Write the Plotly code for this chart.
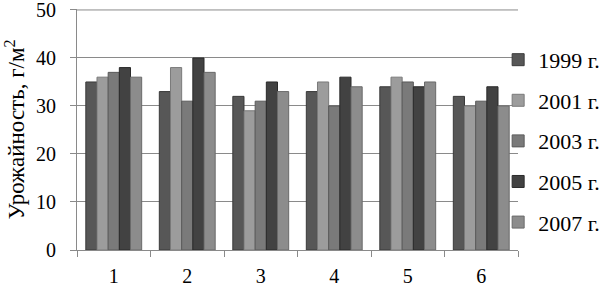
import plotly.graph_objects as go

categories = ["1", "2", "3", "4", "5", "6"]
series_names = ["1999 г.", "2001 г.", "2003 г.", "2005 г.", "2007 г."]
v1999 = [35, 33, 32, 33, 34, 32]
v2001 = [36, 38, 29, 35, 36, 30]
v2003 = [37, 31, 31, 30, 35, 31]
v2005 = [38, 40, 35, 36, 34, 34]
v2007 = [36, 37, 33, 34, 35, 30]
y_ticks = [0, 10, 20, 30, 40, 50]

series_values = [v1999, v2001, v2003, v2005, v2007]
colors = ["#575757", "#9c9c9c", "#7a7a7a", "#424242", "#8c8c8c"]
edges = ["#3a3a3a", "#7a7a7a", "#5a5a5a", "#2a2a2a", "#6a6a6a"]

font = "Liberation Serif"
fig = go.Figure()
for i, (name, vals) in enumerate(zip(series_names, series_values)):
    fig.add_trace(go.Bar(
        x=categories, y=vals, name=name,
        marker=dict(color=colors[i], line=dict(color=edges[i], width=1)),
        legendgroup=name,
    ))

# top gridline at the axis maximum
fig.add_shape(type="line", xref="paper", x0=0, x1=1, yref="y", y0=y_ticks[-1], y1=y_ticks[-1],
              line=dict(color="#8a8a8a", width=1), layer="below")

fig.update_layout(
    width=599, height=287,
    margin=dict(l=77, r=81, t=9, b=37, autoexpand=False),
    paper_bgcolor="white", plot_bgcolor="white",
    barmode="group", bargap=0.24, bargroupgap=0,
    font=dict(family=font, size=20, color="black"),
    showlegend=True,
    legend=dict(x=0.955, y=0.876, xanchor="left", yanchor="top",
                traceorder="grouped", tracegroupgap=9,
                font=dict(family=font, size=22), bgcolor="rgba(0,0,0,0)",
                itemwidth=30),
)
fig.update_yaxes(
    range=[0, 50.2], tickvals=y_ticks, showgrid=True, gridcolor="#8a8a8a", gridwidth=1,
    showline=True, linecolor="#8a8a8a", linewidth=1, ticks="outside", ticklen=6,
    tickcolor="#8a8a8a", zeroline=False, ticklabeloverflow="allow",
    ticklabelstandoff=10,
    title=dict(text="Урожайность, г/м<sup>2</sup>", font=dict(family=font, size=23), standoff=4),
    tickfont=dict(family=font, size=20),
)
fig.update_xaxes(
    showline=True, linecolor="#8a8a8a", linewidth=1, ticks="outside", ticklen=6,
    tickcolor="#8a8a8a", tickson="boundaries", showgrid=False,
    ticklabeloverflow="allow", ticklabelstandoff=8,
    tickfont=dict(family=font, size=20),
)
fig.write_html("out.html", config={"displayModeBar": False})

with open("out.html", encoding="utf-8") as f:
    html = f.read()
html = html.replace("<head>", "<head><style>html,body{margin:0;padding:0;overflow:hidden;}</style>", 1)
with open("out.html", "w", encoding="utf-8") as f:
    f.write(html)
